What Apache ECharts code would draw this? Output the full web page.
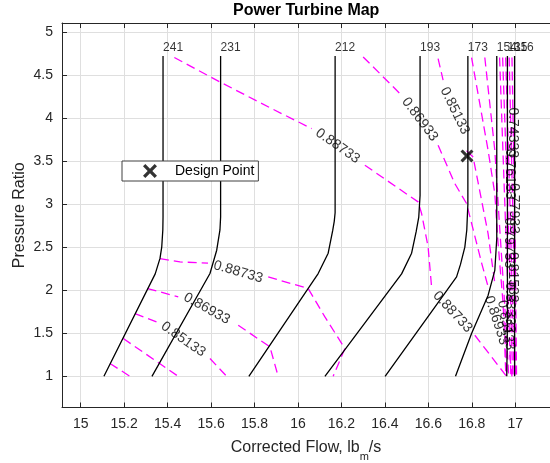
<html>

<head>
    <meta charset='utf-8' />
    <title>Power Turbine Map</title>
    <style>
        body {
            margin: 0;
            padding: 0;
        }

        #chart {
            position: absolute;
            top: 0;
            left: 0;
            width: 550px;
            height: 463px;
        }
    </style>
</head>

<body>
    <div id='chart'></div>
    <script type="text/javascript" src="https://cdn.jsdelivr.net/npm/echarts@6/dist/echarts.min.js"></script>
    <script type="text/javascript">

        // axis ticks
        var flowTicks = [15, 15.2, 15.4, 15.6, 15.8, 16, 16.2, 16.4, 16.6, 16.8, 17];
        var prTicks = [1, 1.5, 2, 2.5, 3, 3.5, 4, 4.5, 5];

        // constant speed lines, [corrected flow, pressure ratio]
        var speedLabels = ['241', '231', '212', '193', '173', '154', '135', '116'];
        var n241 = [[15.379, 4.72], [15.379, 2.85], [15.378, 2.70], [15.373, 2.50], [15.365, 2.37], [15.343, 2.19], [15.107, 1.0]];
        var n231 = [[15.644, 4.72], [15.644, 2.85], [15.641, 2.70], [15.626, 2.465], [15.595, 2.194], [15.328, 1.0]];
        var n212 = [[16.171, 4.72], [16.171, 2.90], [16.167, 2.80], [16.160, 2.695], [16.139, 2.43], [16.093, 2.194], [15.774, 1.0]];
        var n193 = [[16.562, 4.72], [16.562, 3.10], [16.556, 2.85], [16.544, 2.68], [16.523, 2.43], [16.477, 2.19], [16.124, 1.0]];
        var n173 = [[16.782, 4.72], [16.782, 3.00], [16.777, 2.70], [16.768, 2.50], [16.748, 2.30], [16.730, 2.155], [16.401, 1.0]];
        var n154 = [[16.915, 4.72], [16.915, 2.60], [16.906, 2.23], [16.875, 1.94], [16.799, 1.497], [16.725, 1.0]];
        var n135 = [[16.964, 4.72], [16.964, 1.60], [16.961, 1.0]];
        var n116 = [[16.997, 4.72], [16.997, 1.0]];
        var speedLines = [n241, n231, n212, n193, n173, n154, n135, n116];

        // efficiency contours, null marks the gap left for a label
        var eff887Up = [[15.431, 4.703], [15.641, 4.419], [15.885, 4.102], [16.063, 3.878], null, [16.308, 3.452], [16.553, 3.026], [16.569, 2.891], [16.599, 2.503], [16.615, 2.038], null, [16.814, 1.477], [16.960, 1.0]];
        var eff887Lo = [[15.365, 2.368], [15.457, 2.329], [15.586, 2.314], null, [15.863, 2.154], [16.047, 2.020], [16.124, 1.690], [16.216, 1.323], [16.162, 1.0]];
        var eff869Up = [[16.300, 4.710], [16.469, 4.285], null, [16.645, 3.684], [16.722, 3.239], [16.776, 3.007], [16.846, 2.310], [16.877, 2.023], null, [16.952, 1.326], [16.957, 1.0]];
        var eff869Lo = [[15.308, 2.020], [15.449, 1.922], null, [15.725, 1.594], [15.871, 1.342], [15.909, 1.0]];
        var eff851Up = [[16.645, 4.691], [16.668, 4.440], null, [16.776, 3.620], [16.806, 3.548], [16.875, 2.658], [16.905, 2.10], null, [16.975, 1.25], [16.985, 1.0]];
        var eff851Lo = [[15.250, 1.729], [15.350, 1.632], null, [15.595, 1.207], [15.672, 1.0]];
        var eff833Lo = [[15.196, 1.439], [15.449, 1.0]];
        var eff815Lo = [[15.135, 1.149], [15.227, 1.0]];
        var eff833Up = [[16.799, 4.703], [16.875, 3.626], [16.906, 3.123], [16.920, 2.58], [16.943, 1.88], [16.962, 1.0]];
        var eff815Up = [[16.860, 4.703], [16.906, 3.626], [16.929, 2.70], [16.950, 1.90], [16.970, 1.0]];
        var eff797Up = [[16.928, 4.703], [16.955, 2.80], [16.980, 1.0]];
        var eff779Up = [[16.942, 4.703], [16.968, 2.80], [16.988, 1.0]];
        var eff761Up = [[16.956, 4.703], [16.978, 2.80], [16.995, 1.0]];
        var eff743Up = [[16.972, 4.703], [16.990, 2.80], [17.002, 1.0]];
        var eff725Up = [[16.985, 4.703], [17.000, 2.50], [17.006, 1.0]];
        var contours = [eff887Up, eff887Lo, eff869Up, eff869Lo, eff851Up, eff851Lo, eff833Lo, eff815Lo,
            eff833Up, eff815Up, eff797Up, eff779Up, eff761Up, eff743Up, eff725Up];

        // contour labels [flow, pressure ratio, text] and their angles
        var effLabels = [
            [16.183, 3.675, '0.88733'], [15.725, 2.213, '0.88733'], [16.712, 1.748, '0.88733'],
            [16.561, 3.985, '0.86933'], [15.580, 1.787, '0.86933'], [16.913, 1.651, '0.86933'],
            [16.722, 4.085, '0.85133'], [15.472, 1.429, '0.85133'], [16.958, 1.594, '0.85133'],
            [16.990, 3.830, '0.74333'], [16.975, 3.350, '0.76133'], [16.992, 2.950, '0.77933'],
            [16.972, 2.550, '0.79733'], [16.990, 2.150, '0.81533'], [16.975, 1.800, '0.83333']
        ];
        var effLabelAngles = [-35, -16, -47, -53, -29, -72, -64, -35, -80, -90, -90, -90, -90, -90, -90];

        var designPoint = [16.778, 3.56];

        var xMark = 'path://M0,2 L2,0 L6,4 L10,0 L12,2 L8,6 L12,10 L10,12 L6,8 L2,12 L0,10 L4,6 Z';
        var font = "'Liberation Sans', Arial, sans-serif";

        function splitGaps(pts) {
            var out = [], cur = [];
            pts.forEach(function (p) {
                if (p === null) {
                    if (cur.length) out.push(cur);
                    cur = [];
                } else {
                    cur.push(p);
                }
            });
            if (cur.length) out.push(cur);
            return out;
        }

        var series = [];
        contours.forEach(function (c) {
            splitGaps(c).forEach(function (seg) {
                series.push({
                    type: 'line', data: seg, symbol: 'none', silent: true, z: 2,
                    lineStyle: { color: '#ff00ff', width: 1.3, type: [9, 5] }
                });
            });
        });
        speedLines.forEach(function (l) {
            series.push({
                type: 'line', data: l, symbol: 'none', silent: true, z: 3,
                lineStyle: { color: '#000', width: 1.3 }
            });
        });
        // speed labels sit on top of each speed line
        series.push({
            type: 'scatter', symbolSize: 1, silent: true, z: 4,
            itemStyle: { color: 'rgba(0,0,0,0)' },
            label: { show: true, position: 'top', align: 'left', distance: 2, fontSize: 12, color: '#000', fontFamily: font },
            data: speedLines.map(function (l, i) {
                return { value: l[0], label: { formatter: speedLabels[i] } };
            })
        });
        series.push({
            type: 'scatter', symbolSize: 1, silent: true, z: 4,
            itemStyle: { color: 'rgba(0,0,0,0)' },
            label: { show: true, position: 'inside', fontSize: 14, color: '#000', fontFamily: font },
            data: effLabels.map(function (d, i) {
                return { value: [d[0], d[1]], label: { rotate: effLabelAngles[i], formatter: d[2] } };
            })
        });
        series.push({
            name: 'Design Point', type: 'scatter', symbol: xMark, symbolSize: 13, z: 5,
            itemStyle: { color: '#000' },
            data: [designPoint]
        });

        var axisCol = '#262626';
        var myChart = echarts.init(document.getElementById('chart'));
        myChart.setOption({
            animation: false,
            textStyle: { fontFamily: font },
            title: {
                text: 'Power Turbine Map', left: 233, top: 3, padding: 0,
                textStyle: { fontSize: 16, fontWeight: 'bold', color: '#000', fontFamily: font }
            },
            legend: {
                data: [{ name: 'Design Point', icon: xMark }],
                left: 122, top: 161, itemWidth: 40, itemHeight: 14,
                padding: [3, 4, 3, 21], backgroundColor: '#fff',
                borderColor: '#404040', borderWidth: 1, borderRadius: 0,
                selectedMode: false,
                textStyle: { fontSize: 14, color: '#000', fontFamily: font }
            },
            grid: { left: 62, top: 23, right: 0, bottom: 55.5, outerBoundsMode: 'none' },
            xAxis: [{
                type: 'value', min: 14.914, max: 17.16, position: 'bottom',
                axisLine: { show: true, onZero: false, lineStyle: { color: axisCol } },
                axisTick: { show: true, inside: true, length: 5, customValues: flowTicks, lineStyle: { color: axisCol } },
                axisLabel: { customValues: flowTicks, fontSize: 14, color: axisCol, margin: 10 },
                splitLine: { show: true, lineStyle: { color: '#dfdfdf' } },
                name: '{a|Corrected Flow, lb}{s|m}{a|/s}',
                nameLocation: 'middle', nameGap: 26, nameMoveOverlap: false,
                nameTextStyle: {
                    fontSize: 16, color: axisCol,
                    rich: {
                        a: { fontSize: 16, color: axisCol, fontFamily: font },
                        s: { fontSize: 11, color: axisCol, fontFamily: font, padding: [18, 0, 0, 0] }
                    }
                }
            }, {
                type: 'value', min: 14.914, max: 17.16, position: 'top',
                axisLine: { show: true, onZero: false, lineStyle: { color: axisCol } },
                axisTick: { show: true, inside: true, length: 5, customValues: flowTicks, lineStyle: { color: axisCol } },
                axisLabel: { show: false },
                splitLine: { show: false }
            }],
            yAxis: {
                type: 'value', min: 0.638, max: 5.104,
                axisLine: { show: true, onZero: false, lineStyle: { color: axisCol } },
                axisTick: { show: true, inside: true, length: 5, customValues: prTicks, lineStyle: { color: axisCol } },
                axisLabel: { customValues: prTicks, fontSize: 14, color: axisCol, margin: 9 },
                splitLine: { show: true, lineStyle: { color: '#dfdfdf' } },
                name: 'Pressure Ratio', nameLocation: 'middle', nameGap: 34, nameMoveOverlap: false,
                nameTextStyle: { fontSize: 16, color: axisCol }
            },
            series: series
        });

    </script>
</body>

</html>
